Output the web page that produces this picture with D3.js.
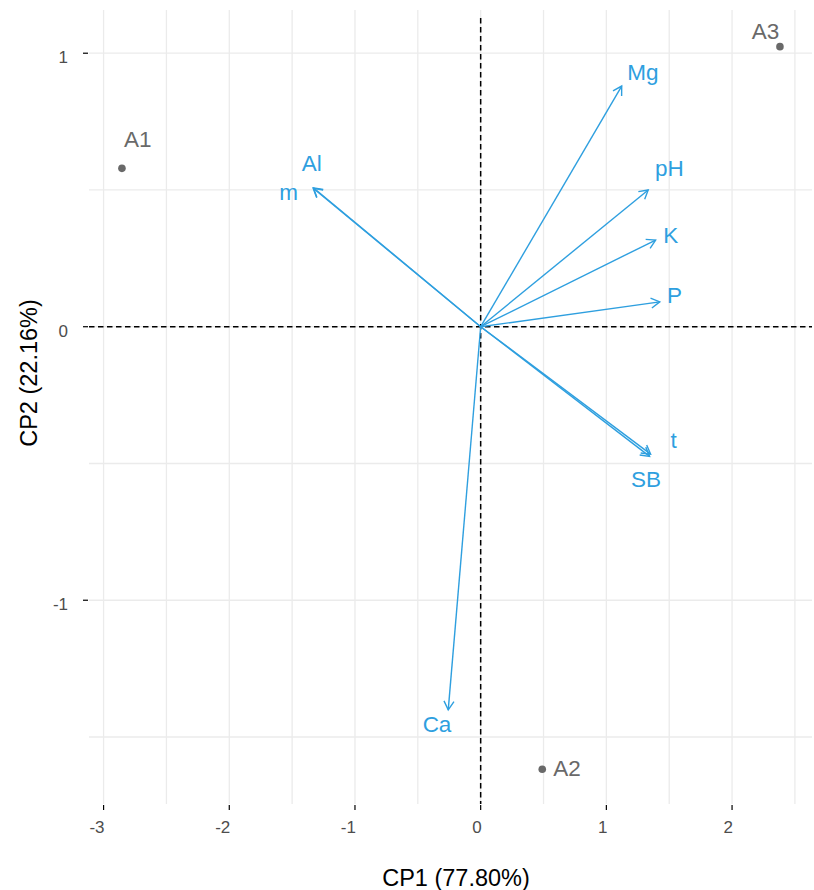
<!DOCTYPE html>
<html>
<head>
<meta charset="utf-8">
<script src="https://cdn.jsdelivr.net/npm/d3@7"></script>
<style>
  html, body { margin: 0; padding: 0; background: #fff; }
  svg { display: block; font-family: "Liberation Sans", Arial, sans-serif; }
</style>
</head>
<body>
<div id="chart"></div>
<script>
// Individuals (scores)
const indNames = ['A1', 'A2', 'A3'];
const indCP1 = [-2.854, 0.490, 2.381];
const indCP2 = [0.579, -1.618, 1.024];

// Variables (arrows)
const varNames = ['Mg', 'pH', 'K', 'P', 't', 'SB', 'Al', 'm', 'Ca'];
const varCP1 = [1.122, 1.333, 1.392, 1.425, 1.352, 1.344, -1.332, -1.331, -0.258];
const varCP2 = [0.880, 0.500, 0.317, 0.091, -0.466, -0.474, 0.506, 0.508, -1.401];

// Axis ticks
const xTicks = [-3, -2, -1, 0, 1, 2];
const yTicks = [-1, 0, 1];
const xTitle = 'CP1 (77.80%)';
const yTitle = 'CP2 (22.16%)';

// label nudges in pixels (like a repel layout)
const varNudge = {
    Mg: [5.6, -6], pH: [6.7, -14], K: [7.6, 2.7], P: [7.3, 1.6],
    t: [20, -5.7], SB: [-18.7, 31], Al: [-11.6, -17.6], m: [-34, 12.7], Ca: [-25.6, 21.7]
};
const indNudge = { A1: [2, -21.6], A2: [11, 6.7], A3: [-28.3, -7.4] };

const width = 814, height = 890;
const blue = '#2E9FDF', grey = '#696969';

const svg = d3.select('#chart').append('svg')
    .attr('width', width)
    .attr('height', height);

// panel edges
const panel = { left: 89, right: 812, top: 10, bottom: 804 };

const x = d3.scaleLinear().domain([-3.116, 2.636]).range([panel.left, panel.right]);
const y = d3.scaleLinear().domain([-1.745, 1.158]).range([panel.bottom, panel.top]);

// Grid (major + minor)
const xGrid = d3.range(-3, 2.6, 0.5);
const yGrid = d3.range(-1.5, 1.1, 0.5);

svg.append('g')
    .selectAll('line')
    .data(xGrid)
    .join('line')
    .attr('x1', d => x(d)).attr('x2', d => x(d))
    .attr('y1', panel.top).attr('y2', panel.bottom)
    .attr('stroke', '#EBEBEB')
    .attr('stroke-width', 1.3);

svg.append('g')
    .selectAll('line')
    .data(yGrid)
    .join('line')
    .attr('x1', panel.left).attr('x2', panel.right)
    .attr('y1', d => y(d)).attr('y2', d => y(d))
    .attr('stroke', '#EBEBEB')
    .attr('stroke-width', 1.3);

// Reference lines at 0
svg.append('line')
    .attr('x1', panel.left).attr('x2', panel.right)
    .attr('y1', y(0)).attr('y2', y(0))
    .attr('stroke', '#000')
    .attr('stroke-width', 1.5)
    .attr('stroke-dasharray', '5.5,3.5');

svg.append('line')
    .attr('x1', x(0)).attr('x2', x(0))
    .attr('y1', panel.top + 8).attr('y2', panel.bottom)
    .attr('stroke', '#000')
    .attr('stroke-width', 1.5)
    .attr('stroke-dasharray', '5.5,3.5');

// Axes: ticks only, theme_minimal style
const xAxis = svg.append('g');
xAxis.selectAll('line')
    .data(xTicks)
    .join('line')
    .attr('x1', d => x(d)).attr('x2', d => x(d))
    .attr('y1', panel.bottom + 1).attr('y2', panel.bottom + 6)
    .attr('stroke', '#000')
    .attr('stroke-width', 1.2);
xAxis.selectAll('text')
    .data(xTicks)
    .join('text')
    .attr('x', d => x(d) + 1)
    .attr('y', 833)
    .attr('text-anchor', 'end')
    .attr('font-size', 17)
    .attr('fill', '#4D4D4D')
    .text(d => d);

const yAxis = svg.append('g');
yAxis.selectAll('line')
    .data(yTicks)
    .join('line')
    .attr('x1', panel.left - 6).attr('x2', panel.left - 1)
    .attr('y1', d => y(d)).attr('y2', d => y(d))
    .attr('stroke', '#000')
    .attr('stroke-width', 1.2);
yAxis.selectAll('text')
    .data(yTicks)
    .join('text')
    .attr('x', 68)
    .attr('y', d => y(d) + 10)
    .attr('text-anchor', 'end')
    .attr('font-size', 17)
    .attr('fill', '#4D4D4D')
    .text(d => d);

// Axis titles
svg.append('text')
    .attr('x', 456)
    .attr('y', 886)
    .attr('text-anchor', 'middle')
    .attr('font-size', 23.5)
    .attr('fill', '#000')
    .text(xTitle);

svg.append('text')
    .attr('transform', 'translate(37,373) rotate(-90)')
    .attr('text-anchor', 'middle')
    .attr('font-size', 23.5)
    .attr('fill', '#000')
    .text(yTitle);

// Variable arrows
const vars = varNames.map((n, i) => ({ name: n, cp1: varCP1[i], cp2: varCP2[i] }));
const arrows = svg.append('g');

arrows.selectAll('line')
    .data(vars)
    .join('line')
    .attr('x1', x(0)).attr('y1', y(0))
    .attr('x2', d => x(d.cp1)).attr('y2', d => y(d.cp2))
    .attr('stroke', blue)
    .attr('stroke-width', 1.4);

const headLen = 10, headAng = Math.PI / 6;
arrows.selectAll('path')
    .data(vars)
    .join('path')
    .attr('d', d => {
        const tx = x(d.cp1), ty = y(d.cp2);
        const a = Math.atan2(ty - y(0), tx - x(0));
        const p1 = [tx - headLen * Math.cos(a - headAng), ty - headLen * Math.sin(a - headAng)];
        const p2 = [tx - headLen * Math.cos(a + headAng), ty - headLen * Math.sin(a + headAng)];
        return `M${p1[0]},${p1[1]}L${tx},${ty}L${p2[0]},${p2[1]}`;
    })
    .attr('fill', 'none')
    .attr('stroke', blue)
    .attr('stroke-width', 1.4);

arrows.selectAll('text')
    .data(vars)
    .join('text')
    .attr('x', d => x(d.cp1) + varNudge[d.name][0])
    .attr('y', d => y(d.cp2) + varNudge[d.name][1])
    .attr('font-size', 22.5)
    .attr('fill', blue)
    .text(d => d.name);

// Individuals
const inds = indNames.map((n, i) => ({ name: n, cp1: indCP1[i], cp2: indCP2[i] }));
const pts = svg.append('g');

pts.selectAll('circle')
    .data(inds)
    .join('circle')
    .attr('cx', d => x(d.cp1))
    .attr('cy', d => y(d.cp2))
    .attr('r', 3.8)
    .attr('fill', grey);

pts.selectAll('text')
    .data(inds)
    .join('text')
    .attr('x', d => x(d.cp1) + indNudge[d.name][0])
    .attr('y', d => y(d.cp2) + indNudge[d.name][1])
    .attr('font-size', 22.5)
    .attr('fill', grey)
    .text(d => d.name);
</script>
</body>
</html>
